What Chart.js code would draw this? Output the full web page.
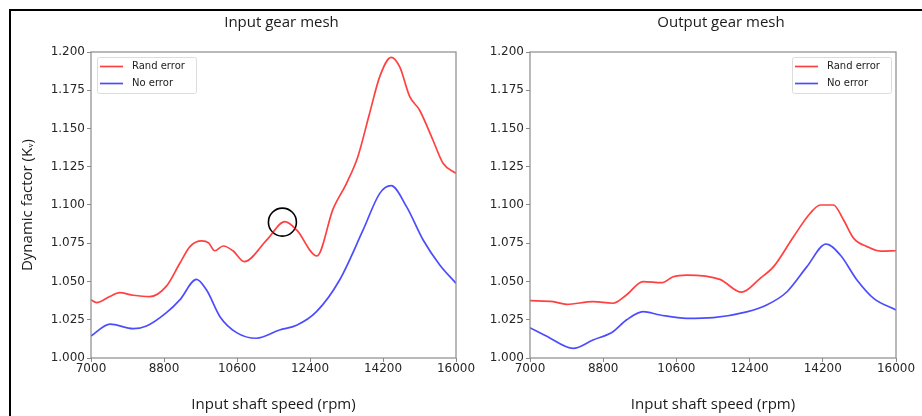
<!DOCTYPE html>
<html>
<head>
<meta charset="utf-8">
<script src="https://cdn.jsdelivr.net/npm/chart.js@4.4.0/dist/chart.umd.min.js"></script>
<style>
  body { margin: 0; background: #fff; width: 922px; height: 416px; overflow: hidden; position: relative; }
  #frame { position: absolute; left: 9px; top: 9px; width: 940px; height: 440px; border-left: 2.5px solid #000; border-top: 2.5px solid #000; }
  .panel { position: absolute; top: 0; height: 416px; }
  #pIn { left: 0; width: 480px; }
  #pOut { left: 460px; width: 462px; }
</style>
</head>
<body>
<div id="frame"></div>
<div class="panel" id="pIn"><canvas id="inChart"></canvas></div>
<div class="panel" id="pOut"><canvas id="outChart"></canvas></div>
<script>
// ---- data (rpm, dynamic factor) ----
const xTicks = [7000, 8800, 10600, 12400, 14200, 16000];

// Input gear mesh
const inRandRpm = [7000, 7140, 7450, 7710, 8040, 8450, 8860, 9190, 9440, 9730, 9900, 10050, 10260, 10500, 10780, 11330, 11780, 12070, 12570, 12970, 13300, 13580, 13870, 14120, 14400, 14610, 14860, 15100, 15430, 15680, 16000];
const inRandVal = [1.038, 1.0362, 1.040, 1.0427, 1.041, 1.0401, 1.047, 1.0619, 1.0728, 1.0765, 1.0752, 1.0701, 1.0732, 1.0701, 1.063, 1.0771, 1.0891, 1.0837, 1.0667, 1.0975, 1.1142, 1.1316, 1.160, 1.1839, 1.1965, 1.1904, 1.1708, 1.1621, 1.1425, 1.1273, 1.1207];
const inNoneRpm = [7000, 7470, 8040, 8370, 8860, 9190, 9600, 9850, 10180, 10590, 11080, 11650, 12070, 12560, 13130, 13710, 14120, 14400, 14780, 15190, 15600, 16000];
const inNoneVal = [1.0144, 1.0222, 1.0192, 1.0209, 1.0296, 1.038, 1.0514, 1.0444, 1.027, 1.0166, 1.0129, 1.0183, 1.0214, 1.0303, 1.051, 1.0837, 1.1076, 1.1126, 1.0989, 1.0771, 1.0608, 1.0488];
const circleRpm = [11720];
const circleVal = [1.0888];

// Output gear mesh
const outRandRpm = [7000, 7570, 7900, 8550, 9040, 9370, 9780, 10240, 10520, 10850, 11670, 12200, 12660, 12990, 13480, 13890, 14140, 14460, 14710, 14960, 15290, 15610, 16000];
const outRandVal = [1.0375, 1.0368, 1.0351, 1.0368, 1.0358, 1.0412, 1.0499, 1.0492, 1.0531, 1.0542, 1.0514, 1.0430, 1.0521, 1.0597, 1.0793, 1.0946, 1.100, 1.100, 1.0902, 1.0782, 1.0728, 1.0699, 1.0701];
const outNoneRpm = [7000, 7400, 8060, 8550, 9040, 9370, 9780, 10200, 10850, 11510, 12330, 12820, 13320, 13810, 14280, 14630, 15040, 15450, 16000];
const outNoneVal = [1.0198, 1.0144, 1.0063, 1.0118, 1.0172, 1.0248, 1.0303, 1.0281, 1.0259, 1.0264, 1.0301, 1.0346, 1.0433, 1.0597, 1.0745, 1.0673, 1.051, 1.039, 1.0314];

const RED = 'rgba(255, 0, 0, 0.75)';
const BLUE = 'rgba(0, 0, 255, 0.7)';

function pts(xs, ys) { return xs.map((x, i) => ({ x: x, y: ys[i] })); }

function series(label, xs, ys, color) {
    return {
        label: label, data: pts(xs, ys), borderColor: color, borderWidth: 1.7,
        pointRadius: 0, fill: false, cubicInterpolationMode: 'monotone', inLegend: true
    };
}

// frame around plot area + panel title + inside legend
const axesFrame = {
    id: 'axesFrame',
    afterDatasetsDraw(chart, args, opts) {
        const { ctx, chartArea: a } = chart;
        ctx.save();
        ctx.strokeStyle = '#8a8a8a';
        ctx.lineWidth = 1.2;
        ctx.strokeRect(a.left, a.top, a.right - a.left, a.bottom - a.top);

        // legend box
        const items = chart.data.datasets.filter(d => d.inLegend);
        const w = 99, h = 36;
        const x = opts.side === 'right' ? a.right - 5 - w : a.left + 6;
        const y = a.top + 5;
        ctx.fillStyle = 'rgba(255,255,255,0.85)';
        ctx.strokeStyle = '#dcdcdc';
        ctx.lineWidth = 1;
        ctx.beginPath();
        ctx.roundRect(x + 0.5, y + 0.5, w, h, 2);
        ctx.fill();
        ctx.stroke();
        ctx.font = '10px "DejaVu Sans"';
        ctx.textBaseline = 'middle';
        items.forEach((d, i) => {
            const ly = y + 9.5 + i * 17;
            ctx.strokeStyle = d.borderColor;
            ctx.lineWidth = 1.7;
            ctx.beginPath();
            ctx.moveTo(x + 3, ly);
            ctx.lineTo(x + 26, ly);
            ctx.stroke();
            ctx.fillStyle = '#222';
            ctx.fillText(d.label, x + 35, ly);
        });

        // panel title
        ctx.font = '15px "Open Sans"';
        ctx.textAlign = 'center';
        ctx.fillStyle = '#1a1a1a';
        ctx.fillText(opts.title, (a.left + a.right) / 2 + 8, a.top - 29);
        ctx.restore();
    }
};

Chart.defaults.font.family = 'DejaVu Sans';
Chart.defaults.color = '#262626';
Chart.defaults.animation = false;

function makeChart(id, datasets, opts) {
    return new Chart(document.getElementById(id), {
        type: 'line',
        data: { datasets: datasets },
        options: {
            responsive: true,
            maintainAspectRatio: false,
            layout: { padding: { top: 52, right: opts.padRight, left: 0, bottom: 0 } },
            plugins: {
                legend: { display: false },
                tooltip: { enabled: false },
                axesFrame: { side: opts.legendSide, title: opts.title }
            },
            scales: {
                x: {
                    type: 'linear', min: 7000, max: 16000,
                    afterBuildTicks: s => { s.ticks = xTicks.map(v => ({ value: v })); },
                    ticks: { font: { size: 12 }, color: '#262626', padding: 0, maxRotation: 0, callback: v => String(v) },
                    grid: { drawOnChartArea: false, drawTicks: true, tickLength: 4, color: '#8a8a8a' },
                    border: { display: false },
                    title: { display: true, text: 'Input shaft speed (rpm)', color: '#1a1a1a',
                             font: { family: 'Open Sans', size: 15 }, padding: { top: 0, bottom: 2 } },
                    afterFit: s => { s.height = 58; }
                },
                y: {
                    min: 1.0, max: 1.2,
                    ticks: { stepSize: 0.025, font: { size: 12 }, color: '#262626', padding: 2, callback: v => v.toFixed(3) },
                    grid: { drawOnChartArea: false, drawTicks: true, tickLength: 4, color: '#8a8a8a' },
                    border: { display: false },
                    title: { display: opts.yTitle, text: 'Dynamic factor (K\u1D65)', color: '#1a1a1a',
                             font: { family: 'Open Sans', size: 15 }, padding: { top: 19, bottom: 0 } },
                    afterFit: s => { s.width = opts.yWidth; }
                }
            }
        },
        plugins: [axesFrame]
    });
}

makeChart('inChart', [
    series('Rand error', inRandRpm, inRandVal, RED),
    series('No error', inNoneRpm, inNoneVal, BLUE),
    {
        label: 'highlight', data: pts(circleRpm, circleVal), showLine: false,
        pointRadius: 14, pointBorderWidth: 1.6, pointBorderColor: '#000',
        pointBackgroundColor: 'rgba(0,0,0,0)', borderColor: '#000'
    }
], { padRight: 24, yWidth: 91, yTitle: true, legendSide: 'left', title: 'Input gear mesh' });

makeChart('outChart', [
    series('Rand error', outRandRpm, outRandVal, RED),
    series('No error', outNoneRpm, outNoneVal, BLUE)
], { padRight: 26, yWidth: 70, yTitle: false, legendSide: 'right', title: 'Output gear mesh' });
</script>
</body>
</html>
